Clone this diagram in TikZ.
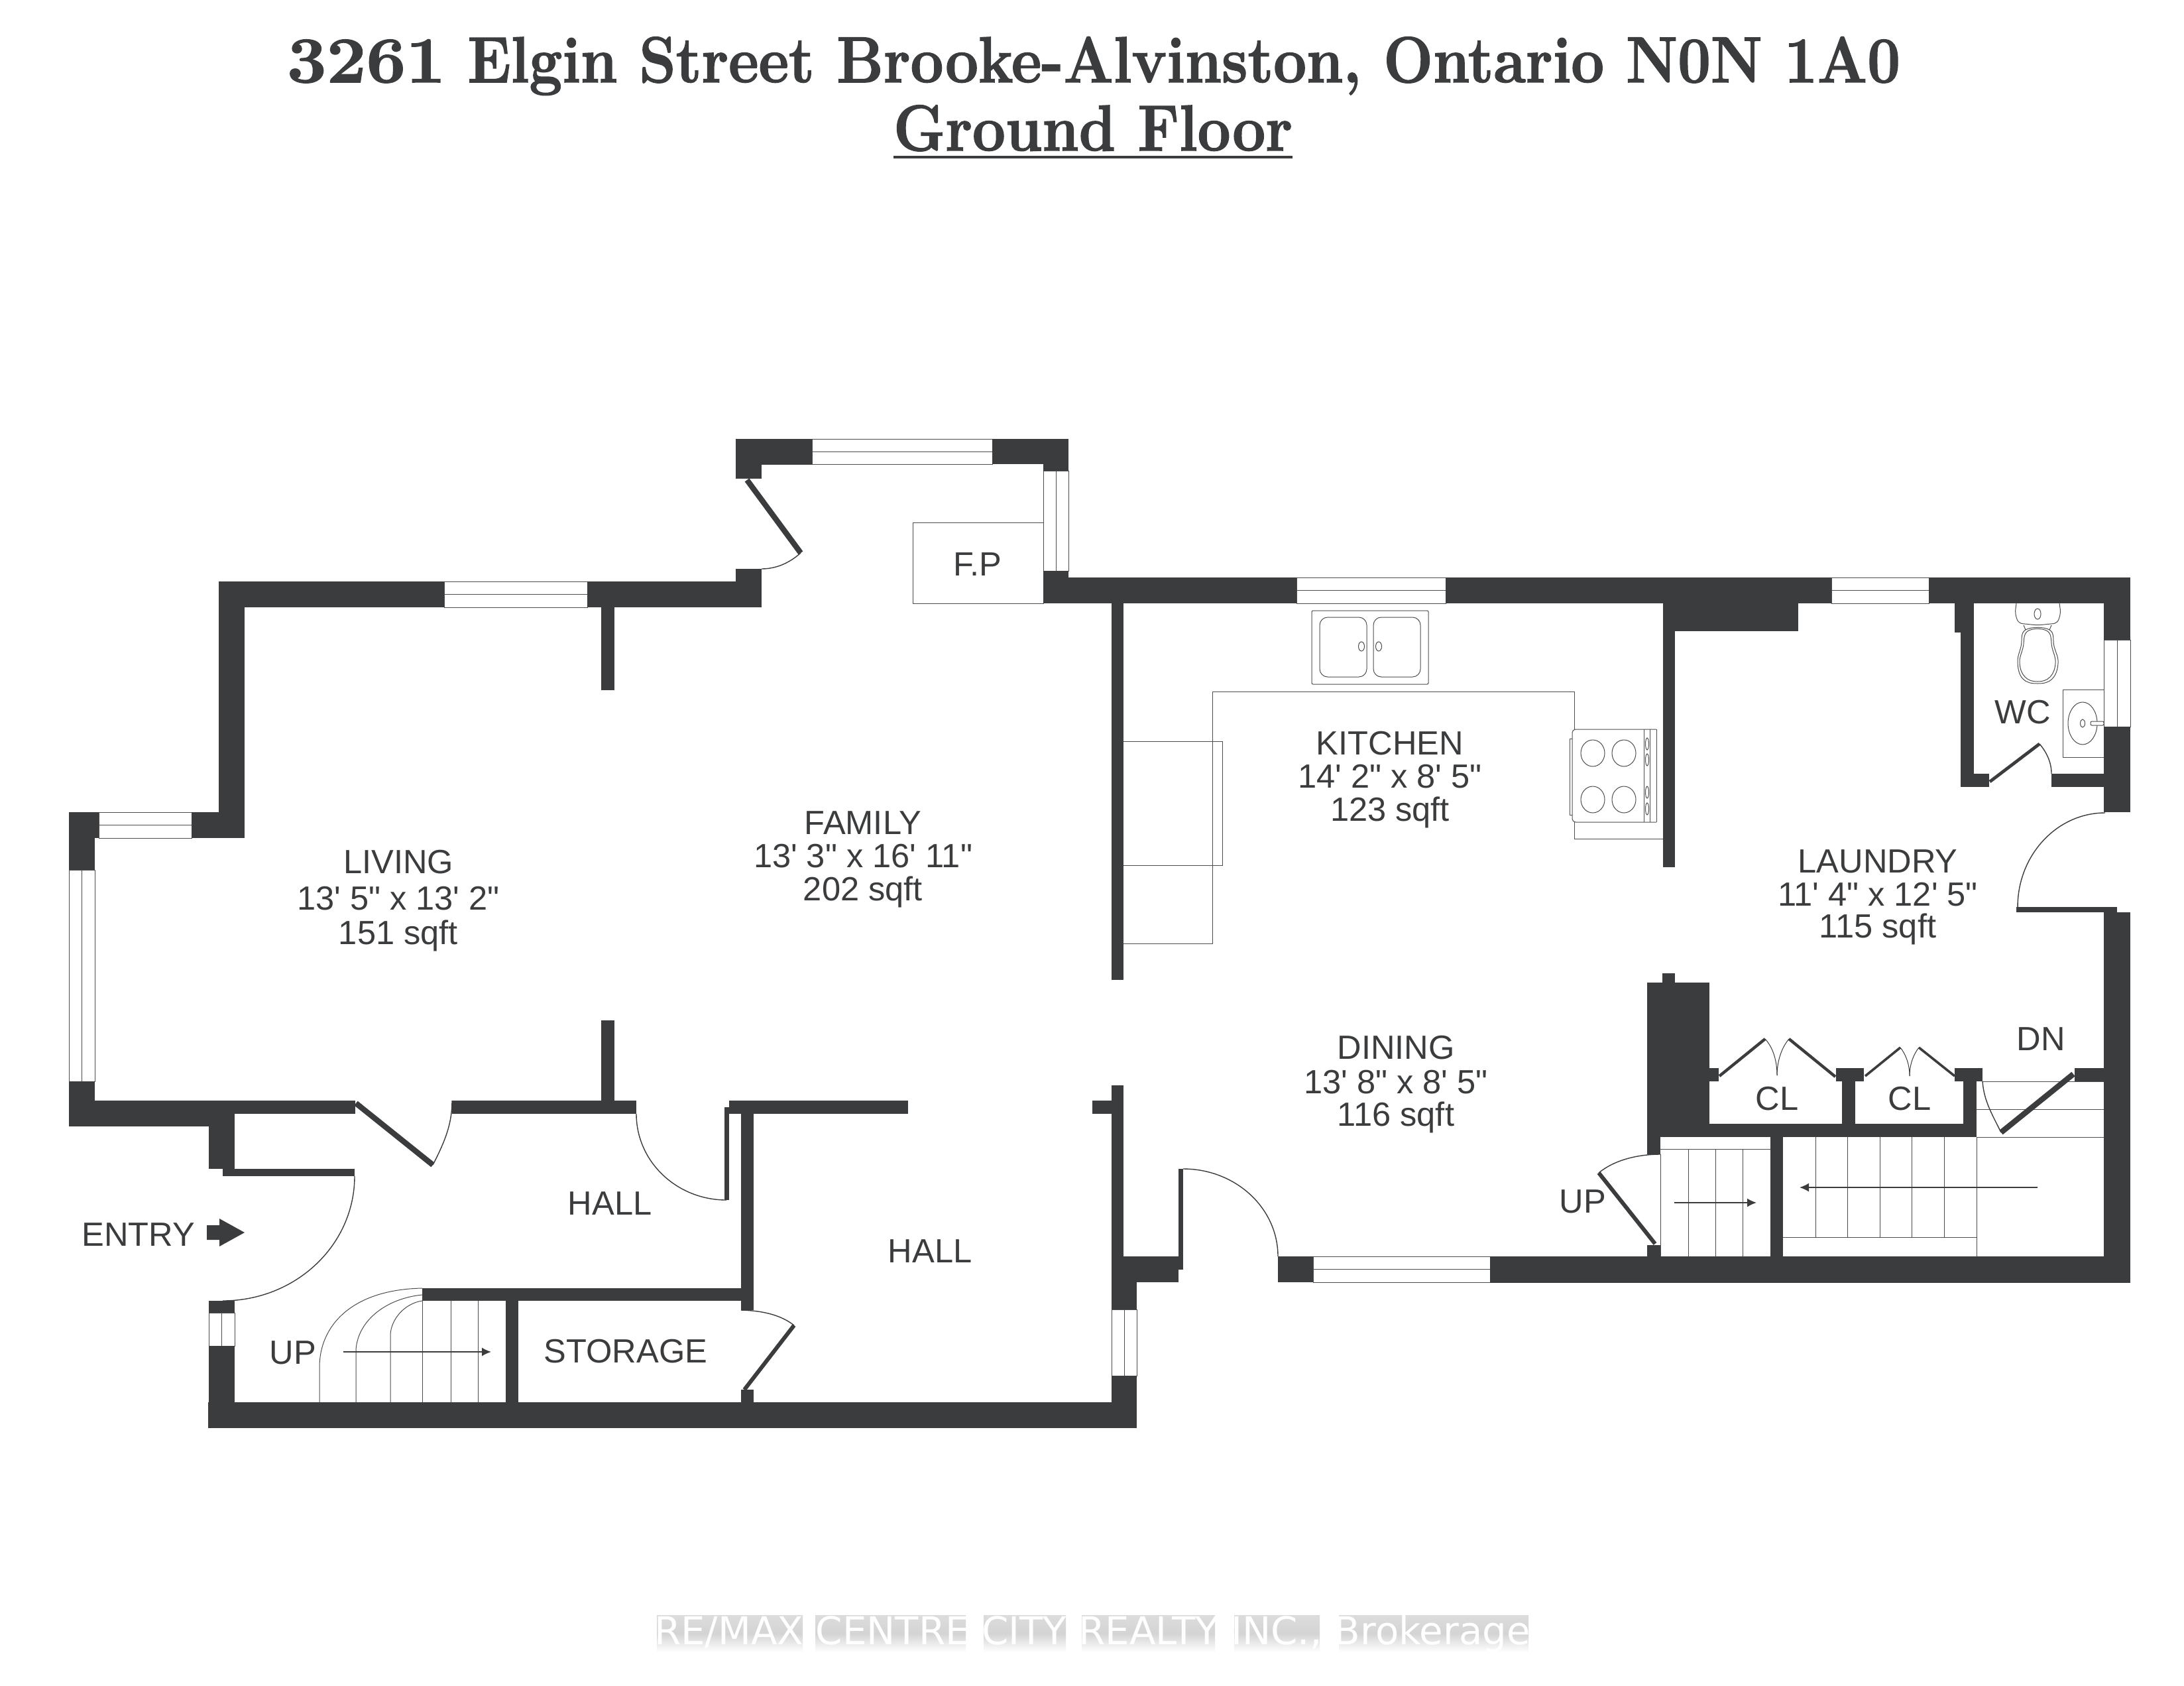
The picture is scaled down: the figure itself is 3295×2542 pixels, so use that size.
\documentclass[tikz,border=0pt]{standalone}
\usepackage{fontspec}
\usepackage{graphicx}
\usetikzlibrary{arrows.meta}
\newfontfamily\planfont{Liberation Sans}
\newfontfamily\markfont{DejaVu Sans}
\newfontfamily\titlefont[BoldFeatures={FakeBold=1.6}]{Latin Modern Roman}
\definecolor{ink}{RGB}{58,60,62}
\definecolor{thinline}{RGB}{75,77,79}
\definecolor{haze}{RGB}{212,212,213}
\tikzset{
  wall/.style={fill=ink,draw=none},
  thin line/.style={draw=thinline,line width=.5pt},
  win/.style={draw=thinline,line width=.5pt,fill=white},
  leaf/.style={draw=ink,line width=4.2pt,line cap=butt},
  swing/.style={draw=ink,line width=.7pt},
  plantext/.style={text=ink,inner sep=0pt,font=\planfont\fontsize{25.3}{30}\selectfont,anchor=base},
  title/.style={text=ink,inner sep=0pt,font=\titlefont\bfseries\fontsize{49}{55}\selectfont,anchor=base},
  stairarrow/.style={draw=ink,line width=.8pt,-{Latex[length=7pt,width=6.5pt]}},
  mist/.style={top color=haze!80!white,bottom color=white,middle color=haze,draw=none}
}
\newcommand{\wl}[4]{\fill[wall] (#1,#2) rectangle (#3,#4);}
\newcommand{\winh}[4]{\draw[win] (#1,#2) rectangle (#3,#4); \draw[thin line] (#1,{(#2+#4)/2}) -- (#3,{(#2+#4)/2});}
\newcommand{\winv}[4]{\draw[win] (#1,#2) rectangle (#3,#4); \draw[thin line] ({(#1+#3)/2},#2) -- ({(#1+#3)/2},#4);}
% name, x, first baseline, second baseline, third baseline, three lines
\newcommand{\rlabel}[8]{%
  \node[plantext] (#1a) at (#2,#3) {#6};
  \node[plantext] (#1b) at (#2,#4) {#7};
  \node[plantext] (#1c) at (#2,#5) {#8};}
\begin{document}
\begin{tikzpicture}[x=0.5pt,y=-0.5pt]
\useasboundingbox (0,0) rectangle (3295,2542);
\fill[white] (0,0) rectangle (3295,2542);
% ---------- title
\node[title] (t1) at (1650,124) {\resizebox{1217pt}{\height}{\scalebox{1.2}[1]{3261} Elgin Street Brooke-Alvinston, Ontario N0N 1A0}};
\node[title] (t2) at (1649,227) {\resizebox{301pt}{\height}{Ground Floor}};
\fill[wall] (1348,235) rectangle (1950,239);
% ---------- windows
\winh{670}{877}{886}{916}
\winh{149}{1225}{289}{1264}
\winv{104}{1312}{143}{1631}
\winv{315}{1980}{354}{2030}
\winv{1677}{1975}{1715}{2075}
\winh{1981}{1895}{2248}{1934}
\winh{1225}{662}{1497}{700}
\winv{1574}{710}{1612}{861}
\winh{1956}{871}{2181}{910}
\winh{2763}{871}{2910}{910}
\winv{3174}{965}{3214}{1096}
% ---------- thin fixtures
% fireplace
\draw[thin line] (1377,788) rectangle (1574,910);
% kitchen counter
\draw[thin line] (1695,1423) -- (1829,1423) -- (1829,1043) -- (2375,1043) -- (2375,1100);
\draw[thin line] (2375,1240) -- (2375,1265) -- (2509,1265);
\draw[thin line] (1695,1118) -- (1844,1118) -- (1844,1305) -- (1695,1305);
% sink
\draw[thin line,rounded corners=1pt] (1979,921) rectangle (2155,1032);
\draw[thin line,rounded corners=6pt] (1991,931) rectangle (2062,1021);
\draw[thin line,rounded corners=6pt] (2072,931) rectangle (2143,1021);
\draw[thin line] (2054,975) ellipse (4.5 and 7);
\draw[thin line] (2080,975) ellipse (4.5 and 7);
% stove
\draw[thin line,rounded corners=2.5pt] (2499,1100) -- (2372,1100) -- (2372,1240) -- (2499,1240);
\draw[thin line] (2372,1114) -- (2368,1114) -- (2368,1229) -- (2372,1229);
\draw[thin line] (2480,1100) -- (2480,1240);
\draw[thin line] (2489,1100) -- (2489,1240);
\draw[thin line] (2499,1100) -- (2499,1240);
\foreach \bx in {2403,2450}{\foreach \by in {1136,1206}{\draw[thin line] (\bx,\by) ellipse (18 and 20);}}
\foreach \ky in {1122,1146,1195,1220}{\draw[thin line] (2485,\ky) ellipse (2.5 and 9);}
% toilet
\draw[thin line,rounded corners=3pt] (3042,910) -- (3040,925) -- (3045,940) -- (3074,943) -- (3104,940) -- (3109,925) -- (3107,910);
\draw[thin line] (3074,926) ellipse (5 and 8);
\draw[thin line] plot[smooth cycle,tension=.7] coordinates {(3056,950) (3092,950) (3099,975) (3105,1000) (3096,1024) (3074,1031) (3052,1024) (3044,1000) (3049,975)};
\draw[thin line] plot[smooth cycle,tension=.7] coordinates {(3059,952) (3089,952) (3096,977) (3101,1000) (3093,1021) (3074,1028) (3055,1021) (3047,1000) (3052,977)};
\draw[thin line] (3053,943) -- (3056,950);
\draw[thin line] (3095,943) -- (3092,950);
% basin
\draw[thin line] (3112,1040) rectangle (3174,1142);
\draw[thin line] (3142,1091) ellipse (22 and 32);
\draw[thin line] (3142,1091) ellipse (3.5 and 6);
\draw[thin line,rounded corners=1pt,fill=white] (3154,1088) rectangle (3174,1094);
% stairs, hall
\draw[thin line] (482,2115) -- (482,2062) .. controls (482,2000) and (530,1945) .. (637,1943);
\draw[thin line] (537,2115) -- (537,2036) .. controls (540,1990) and (585,1958) .. (637,1953);
\draw[thin line] (589,2115) -- (589,2013) .. controls (590,1990) and (610,1966) .. (637,1962);
\draw[thin line] (637,1943) -- (637,2115);
\draw[thin line] (680,1962) -- (680,2115);
\draw[thin line] (721,1962) -- (721,2115);
\coordinate (s1a) at (518,2039); \coordinate (s1b) at (741,2039);
\draw[stairarrow] (s1a) -- (s1b);
% stairs, right
\draw[thin line] (2505,1741) -- (2505,1895);
\draw[thin line] (2505,1733) -- (2671,1733);
\foreach \sx in {2547,2588,2629}{\draw[thin line] (\sx,1733) -- (\sx,1895);}
\coordinate (s2a) at (2526,1814); \coordinate (s2b) at (2650,1814);
\draw[stairarrow] (s2a) -- (s2b);
\draw[thin line] (2982,1715) -- (2982,1895);
\draw[thin line] (2690,1866) -- (2982,1866);
\foreach \sx in {2739,2787,2836,2884,2933}{\draw[thin line] (\sx,1715) -- (\sx,1866);}
\coordinate (s3a) at (3074,1791); \coordinate (s3b) at (2715,1791);
\draw[stairarrow] (s3a) -- (s3b);
\draw[thin line] (2991,1631) -- (3174,1631);
\draw[thin line] (2982,1673) -- (3174,1673);
\draw[thin line] (2982,1715) -- (3174,1715);
% ---------- walls
\wl{330}{877}{670}{916}
\wl{886}{877}{1149}{916}
\wl{1110}{858}{1149}{916}
\wl{330}{877}{369}{1264}
\wl{289}{1225}{369}{1264}
\wl{104}{1225}{149}{1264}
\wl{104}{1225}{143}{1312}
\wl{104}{1631}{143}{1699}
\wl{104}{1660}{536}{1680}
\wl{104}{1680}{315}{1699}
\wl{315}{1660}{354}{1763}
\wl{336}{1763}{535}{1774}
\wl{682}{1660}{960}{1680}
\wl{907}{916}{927}{1041}
\wl{907}{1539}{927}{1660}
\wl{1100}{1660}{1370}{1680}
\wl{1093}{1670}{1100}{1810}
\wl{1118}{1680}{1137}{1976}
\wl{637}{1943}{1118}{1962}
\wl{763}{1962}{782}{2115}
\wl{1118}{2096}{1137}{2115}
\wl{314}{2115}{1715}{2154}
\wl{315}{1962}{354}{1980}
\wl{315}{2030}{354}{2115}
\wl{1648}{1660}{1677}{1680}
\wl{1677}{1637}{1695}{1895}
\wl{1677}{1895}{1785}{1915}
\wl{1677}{1915}{1778}{1934}
\wl{1677}{1934}{1715}{1975}
\wl{1677}{2075}{1715}{2154}
\wl{1778}{1763}{1785}{1915}
\wl{1928}{1895}{1981}{1934}
\wl{2248}{1895}{3214}{1935}
\wl{2485}{1878}{2505}{1895}
\wl{2671}{1715}{2690}{1895}
\wl{2485}{1695}{2982}{1715}
\wl{2485}{1482}{2579}{1715}
\wl{2508}{1468}{2527}{1482}
\wl{2485}{1715}{2505}{1741}
\wl{2579}{1611}{2593}{1631}
\wl{2770}{1611}{2812}{1631}
\wl{2779}{1631}{2799}{1695}
\wl{2949}{1611}{2991}{1631}
\wl{2962}{1631}{2982}{1695}
\wl{3130}{1611}{3174}{1631}
\wl{3174}{1376}{3214}{1935}
\wl{1110}{662}{1225}{701}
\wl{1110}{662}{1149}{722}
\wl{1497}{662}{1612}{700}
\wl{1574}{662}{1612}{710}
\wl{1574}{861}{1612}{910}
\wl{1574}{871}{1956}{910}
\wl{2181}{871}{2763}{910}
\wl{2910}{871}{3214}{910}
\wl{1677}{910}{1695}{1478}
\wl{2509}{910}{2713}{952}
\wl{2509}{952}{2527}{1308}
\wl{2949}{910}{2978}{954}
\wl{2958}{954}{2978}{1187}
\wl{2958}{1167}{3001}{1187}
\wl{3095}{1167}{3174}{1187}
\wl{3174}{871}{3214}{965}
\wl{3174}{1096}{3214}{1225}
\wl{3042}{1368}{3194}{1376}
% ---------- door leaves and swings
\coordinate (d1a) at (1127,724); \coordinate (d1b) at (1208,834);
\draw[leaf] (d1a) -- (d1b);
\draw[swing] (d1b) .. controls (1190,850) and (1170,858) .. (1149,858);
\draw[swing] (535,1774) .. controls (535,1878) and (446,1962) .. (336,1962);
\coordinate (d2a) at (537,1664); \coordinate (d2b) at (653,1757);
\draw[leaf] (d2a) -- (d2b);
\draw[swing] (d2b) .. controls (675,1715) and (682,1690) .. (682,1660);
\draw[swing] (960,1680) .. controls (960,1752) and (1021,1810) .. (1096,1810);
\coordinate (d3a) at (1123,2096); \coordinate (d3b) at (1198,1999);
\draw[leaf,line width=3pt] (d3a) -- (d3b);
\draw[swing] (1118,1976) .. controls (1155,1977) and (1180,1985) .. (d3b);
\draw[swing] (1785,1763) .. controls (1864,1763) and (1928,1822) .. (1928,1895);
\draw[swing] (3176,1226) .. controls (3103,1226) and (3044,1290) .. (3044,1368);
\coordinate (d4a) at (3002,1179); \coordinate (d4b) at (3077,1122);
\draw[leaf,line width=2.4pt] (d4a) -- (d4b);
\draw[swing] (d4b) .. controls (3088,1135) and (3095,1150) .. (3095,1167);
\coordinate (d5a) at (3128,1620); \coordinate (d5b) at (3019,1708);
\draw[leaf] (d5a) -- (d5b);
\draw[swing] (d5b) .. controls (3005,1680) and (2993,1660) .. (2991,1631);
\coordinate (d6a) at (2497,1876); \coordinate (d6b) at (2412,1769);
\draw[leaf,line width=3pt] (d6a) -- (d6b);
\draw[swing] (d6b) .. controls (2435,1750) and (2470,1741) .. (2505,1741);
% closet doors
\coordinate (c1a) at (2594,1623); \coordinate (c1b) at (2663,1567);
\coordinate (c2a) at (2769,1624); \coordinate (c2b) at (2699,1567);
\coordinate (c3a) at (2814,1623); \coordinate (c3b) at (2867,1580);
\coordinate (c4a) at (2949,1623); \coordinate (c4b) at (2895,1580);
\draw[leaf,line width=2.2pt] (c1a) -- (c1b);
\draw[leaf,line width=2.2pt] (c2a) -- (c2b);
\draw[leaf,line width=1.8pt] (c3a) -- (c3b);
\draw[leaf,line width=1.8pt] (c4a) -- (c4b);
\draw[swing,line width=.5pt] (c1b) .. controls (2675,1580) and (2681,1600) .. (2681,1622);
\draw[swing,line width=.5pt] (c2b) .. controls (2688,1580) and (2681,1600) .. (2681,1622);
\draw[swing,line width=.5pt] (c3b) .. controls (2875,1590) and (2881,1605) .. (2881,1623);
\draw[swing,line width=.5pt] (c4b) .. controls (2887,1590) and (2881,1605) .. (2881,1623);
% entry arrow
\fill[wall] (312,1848) -- (331,1848) -- (331,1838) -- (369,1859) -- (331,1880) -- (331,1870) -- (312,1870) -- cycle;
% ---------- room labels
\rlabel{liv}{601}{1317}{1372}{1424}{LIVING}{13' 5" x 13' 2"}{151 sqft}
\rlabel{fam}{1302}{1258}{1308}{1358}{FAMILY}{13' 3" x 16' 11"}{202 sqft}
\rlabel{kit}{2097}{1138}{1188}{1238}{KITCHEN}{14' 2" x 8' 5"}{123 sqft}
\rlabel{lau}{2833}{1316}{1366}{1414}{LAUNDRY}{11' 4" x 12' 5"}{115 sqft}
\rlabel{din}{2106}{1597}{1649}{1698}{DINING}{13' 8" x 8' 5"}{116 sqft}
\node[plantext] (fp) at (1475,868) {F.P};
\node[plantext] (wc) at (3052,1091) {WC};
\node[plantext] (dn) at (3079,1584) {DN};
\node[plantext] (cl1) at (2681,1674) {CL};
\node[plantext] (cl2) at (2881,1674) {CL};
\node[plantext] (up2) at (2388,1829) {UP};
\node[plantext] (hall1) at (920,1832) {HALL};
\node[plantext] (hall2) at (1403,1904) {HALL};
\node[plantext] (entry) at (209,1879) {ENTRY};
\node[plantext] (up1) at (442,2057) {UP};
\node[plantext] (sto) at (944,2055) {STORAGE};
% ---------- watermark: soft grey haze per word, white text above it
\shade[mist] (991,2436) rectangle (1211,2492);
\shade[mist] (1230,2436) rectangle (1457,2492);
\shade[mist] (1484,2436) rectangle (1608,2492);
\shade[mist] (1632,2436) rectangle (1833,2492);
\shade[mist] (1862,2436) rectangle (1991,2492);
\shade[mist] (2020,2436) rectangle (2306,2492);
\node[inner sep=0pt,anchor=base,text=white,font=\markfont\fontsize{28.9}{34}\selectfont] (wmark) at (1648,2480) {RE/MAX CENTRE CITY REALTY INC., Brokerage};
\end{tikzpicture}
\end{document}
